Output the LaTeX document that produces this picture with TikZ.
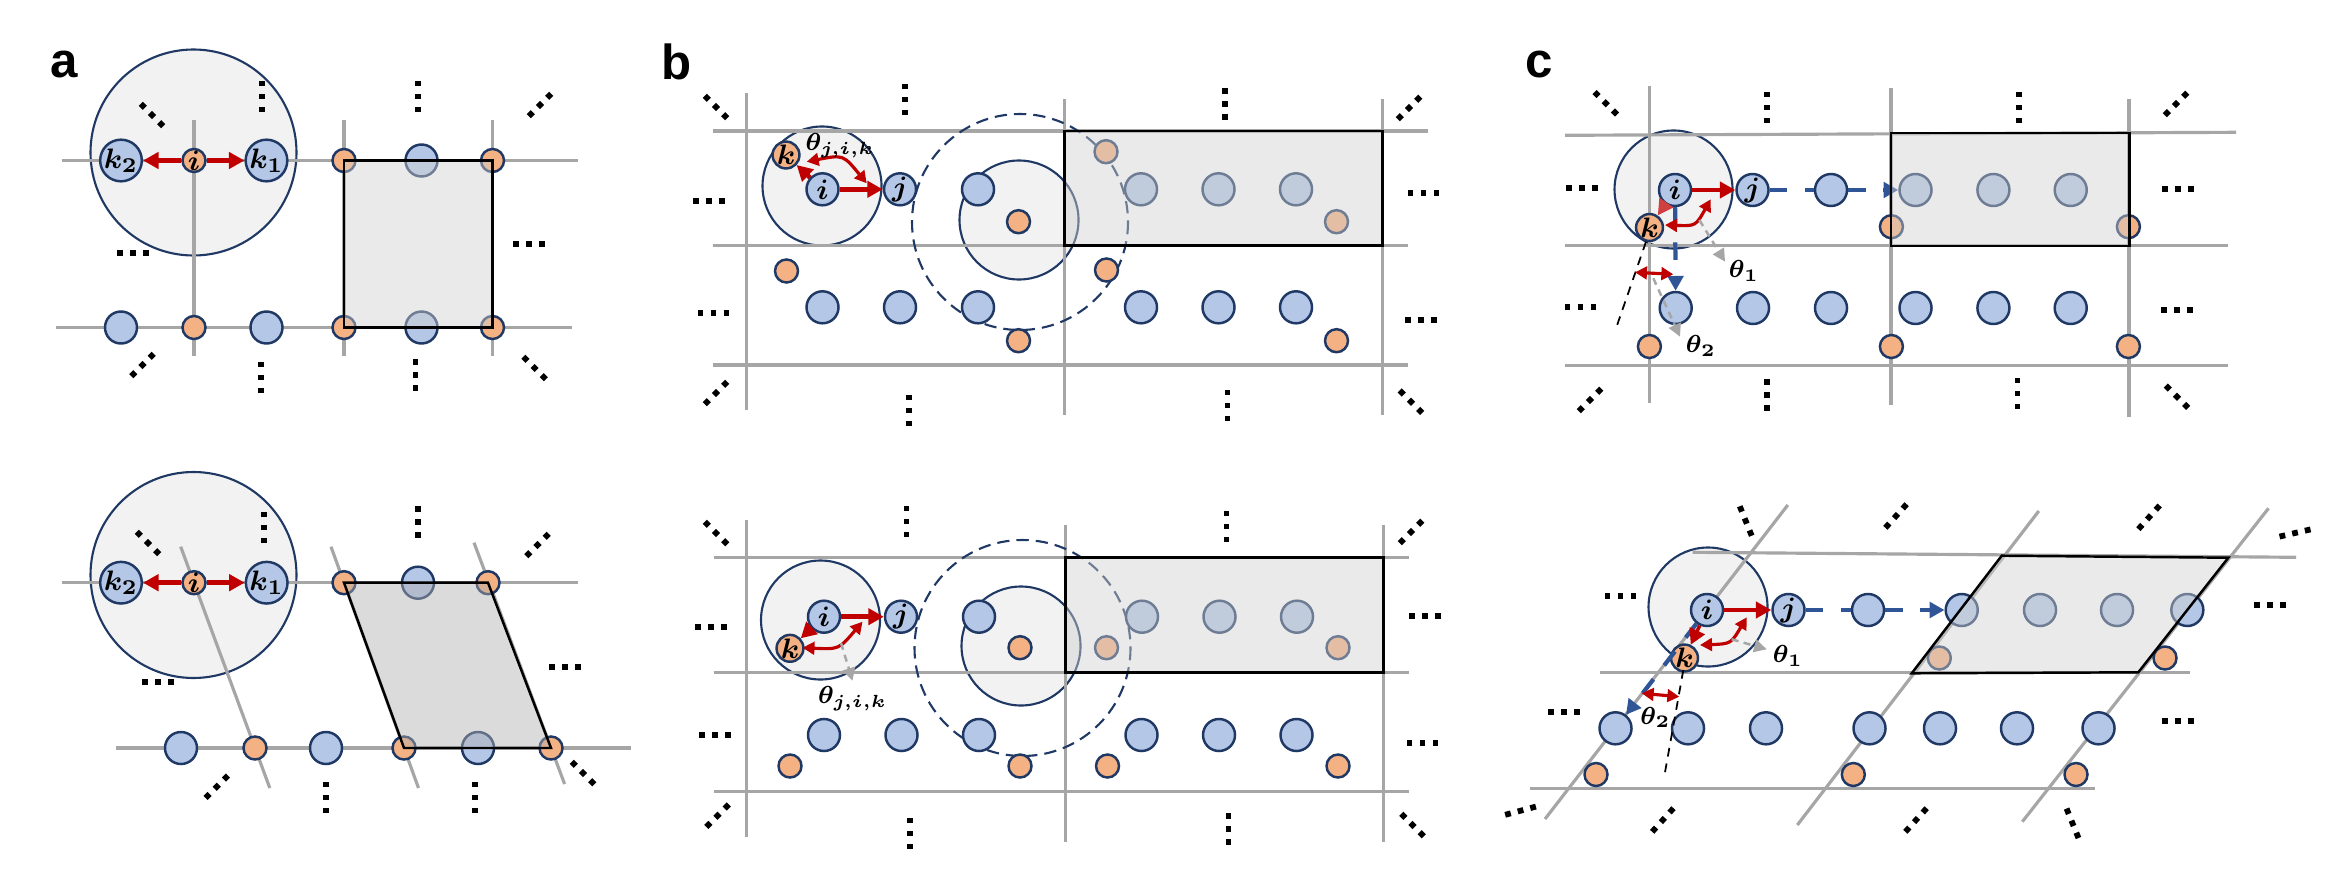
\documentclass[tikz,border=0pt]{standalone}
\usepackage{fontspec}
\usepackage{bm}
\usetikzlibrary{arrows.meta}
\newfontfamily\panelfont{Liberation Sans}
\newcommand\atomfont{\fontsize{8.5}{9}\selectfont}
\newcommand\anglefont{\fontsize{7.2}{8}\selectfont}
\definecolor{atomblue}{HTML}{B4C7E7}
\definecolor{atomorange}{HTML}{F4B183}
\definecolor{navy}{HTML}{1F3864}
\definecolor{gridgray}{HTML}{A6A6A6}
\definecolor{cutgray}{HTML}{F2F2F2}
\definecolor{cellgray}{HTML}{D0D0D0}
\definecolor{celldark}{HTML}{B0B0B0}
\definecolor{bondred}{HTML}{C00000}
\definecolor{hopblue}{HTML}{2F5597}
\tikzset{
  blueat/.style={circle, draw=navy, line width=0.7pt, fill=atomblue, minimum size=0.32cm, inner sep=0pt, font=\atomfont},
  orangeat/.style={circle, draw=navy, line width=0.7pt, fill=atomorange, minimum size=0.23cm, inner sep=0pt, font=\atomfont},
  gridln/.style={gridgray, line width=0.9pt},
  cutoff/.style={draw=navy, line width=0.6pt, fill=cutgray},
  bigcut/.style={navy, line width=0.6pt, dash pattern=on 3.5pt off 2pt},
  cell/.style={draw=black, line width=0.7pt, fill=cellgray, fill opacity=0.45},
  bond/.style={bondred, line width=1.3pt, -{Triangle[length=4.4pt,width=4.6pt]}},
  anglearc/.style={bondred, line width=0.9pt, {Triangle[length=3.4pt,width=3.6pt]}-{Triangle[length=3.4pt,width=3.6pt]}},
  hop/.style={hopblue, line width=1.2pt, dash pattern=on 5pt off 5pt},
  hoptip/.style={hop, -{Triangle[length=4.2pt,width=4.4pt]}},
  pointer/.style={gridgray, line width=0.7pt, dash pattern=on 2pt off 1.5pt, -{Triangle[length=3.6pt,width=3.6pt]}},
  guide/.style={black, line width=0.5pt, dash pattern=on 2.5pt off 2pt},
  panellbl/.style={font=\panelfont\bfseries\fontsize{14}{16}\selectfont, inner sep=0pt, anchor=base},
  anglelbl/.style={font=\anglefont, inner sep=0pt},
  pics/dotrow/.style={code={\foreach \d in {-13,0,13} \fill (\d-2.9,-2.9) rectangle (\d+2.9,2.9);}}
}
\begin{document}
\begin{tikzpicture}[x=0.01cm, y=-0.01cm]
\useasboundingbox (0,0) rectangle (2334,870);

\node[panellbl] (la) at (64,78) {a};
\node[panellbl] (lb) at (676.5,80) {b};
\node[panellbl] (lc) at (1539.5,78) {c};

% a, top
\draw[cutoff] (193.5,152.5) circle[radius=103];
\draw[gridln] (62,160.5) -- (578,160.5);
\draw[gridln] (56,327.5) -- (572,327.5);
\foreach \x in {194,344,492.5} \draw[gridln] (\x,120) -- (\x,356);
\node[blueat] (ak2) at (121,160.5) {$\bm{k_2}$};
\node[orangeat] (ai) at (194,160.5) {$\bm{i}$};
\node[blueat] (ak1) at (266.5,160.5) {$\bm{k_1}$};
\node[orangeat] (ao1) at (344,160.5) {};
\node[blueat] (ab1) at (421.5,160.5) {};
\node[orangeat] (ao2) at (492.5,160.5) {};
\foreach \x [count=\n] in {121,266.5,421.5} \node[blueat] (ap\n) at (\x,327.5) {};
\foreach \x [count=\n] in {194,344,492.5} \node[orangeat] (aq\n) at (\x,327.5) {};
\draw[bond] (ai) -- (ak1);
\draw[bond] (ai) -- (ak2);
\draw[cell] (ao1.center) -- (ao2.center) -- (aq3.center) -- (aq2.center) -- cycle;

% a, bottom
\draw[cutoff] (193.5,575) circle[radius=103];
\draw[gridln] (62,582.7) -- (578,582.7);
\draw[gridln] (116,748) -- (631,748);
\draw[gridln] (180.7,546.7) -- (269.8,788);
\draw[gridln] (331,546.7) -- (418.5,788);
\draw[gridln] (474,542.7) -- (564.6,784);
\node[blueat] (ak4) at (121,582.7) {$\bm{k_2}$};
\node[orangeat] (ai2) at (194,582.7) {$\bm{i}$};
\node[blueat] (ak3) at (266.7,582.7) {$\bm{k_1}$};
\node[orangeat] (ao3) at (344,582.7) {};
\node[blueat] (ab2) at (418,582.7) {};
\node[orangeat] (ao4) at (488,582.7) {};
\foreach \x [count=\n] in {181,326,478} \node[blueat] (as\n) at (\x,748) {};
\foreach \x [count=\n] in {255,404,551} \node[orangeat] (ar\n) at (\x,748) {};
\draw[bond] (ai2) -- (ak3);
\draw[bond] (ai2) -- (ak4);
\draw[cell, fill=celldark] (ao3.center) -- (ao4.center) -- (ar3.center) -- (ar2.center) -- cycle;

% b, top
\draw[cutoff] (822,186) circle[radius=59.5];
\draw[cutoff] (1019,220) circle[radius=59.5];
\draw[gridln] (712.5,131) -- (1427.5,131);
\draw[gridln] (712.5,245.7) -- (1407.5,245.7);
\draw[gridln] (712.5,365) -- (1407.5,365);
\draw[gridln] (746.5,93) -- (746.5,410);
\draw[gridln] (1064.5,99) -- (1064.5,415);
\draw[gridln] (1382.5,99) -- (1382.5,415);
\draw[bigcut] (1020,222) circle[radius=108];
\node[orangeat] (bk) at (786,155) {$\bm{k}$};
\node[blueat] (bi) at (822.5,189.3) {$\bm{i}$};
\node[blueat] (bj) at (900,189.3) {$\bm{j}$};
\foreach \x [count=\n] in {978,1141,1218.5,1296} \node[blueat] (bu\n) at (\x,189.3) {};
\foreach \x/\y [count=\n] in {1018.5/221.7,1106/151.7,1336.5/221.7} \node[orangeat] (bv\n) at (\x,\y) {};
\foreach \x [count=\n] in {822.5,900,978,1141,1218.5,1296} \node[blueat] (bw\n) at (\x,307.3) {};
\foreach \x/\y [count=\n] in {786.5/271,1106.5/270,1018.5/340.7,1336.5/340.7} \node[orangeat] (bx\n) at (\x,\y) {};
\draw[bond] (bi) -- (bj);
\draw[bond] (bi) -- (bk);
\coordinate (bt1) at (806.7,161.7);
\coordinate (btc) at (843.2,154.6);
\coordinate (bt2) at (866.7,183.3);
\draw[anglearc] (bt1) .. controls (btc) .. (bt2);
\node[anglelbl] (bth) at (840,146) {$\bm{\theta_{j,i,k}}$};
\draw[cell] (1064.5,131) rectangle (1382.5,245.7);

% b, bottom
\draw[cutoff] (820.5,620) circle[radius=59.5];
\draw[cutoff] (1021,646) circle[radius=59.5];
\draw[gridln] (713.5,557.7) -- (1408.5,557.7);
\draw[gridln] (713.5,672.3) -- (1408.5,672.3);
\draw[gridln] (713.5,791.7) -- (1408.5,791.7);
\draw[gridln] (746.5,520) -- (746.5,837);
\draw[gridln] (1065.5,525) -- (1065.5,842);
\draw[gridln] (1383.5,525) -- (1383.5,842);
\draw[bigcut] (1022.5,648) circle[radius=108];
\node[orangeat] (bk2) at (790,648.3) {$\bm{k}$};
\node[blueat] (bi2) at (824,616.7) {$\bm{i}$};
\node[blueat] (bj2) at (901,616.7) {$\bm{j}$};
\foreach \x [count=\n] in {979,1142,1219.5,1297} \node[blueat] (by\n) at (\x,616.7) {};
\foreach \x [count=\n] in {1020,1106.5,1338} \node[orangeat] (bz\n) at (\x,647.7) {};
\foreach \x [count=\n] in {824,901.5,979,1141.5,1219,1296.5} \node[blueat] (bq\n) at (\x,735) {};
\foreach \x [count=\n] in {790,1020,1107.5,1338} \node[orangeat] (br\n) at (\x,766) {};
\draw[bond] (bi2) -- (bj2);
\draw[bond] (bi2) -- (bk2);
\coordinate (bt3) at (802.5,647.7);
\coordinate (btd) at (838.9,649.4);
\coordinate (bt4) at (862.5,621.7);
\draw[anglearc] (bt3) .. controls (btd) .. (bt4);
\coordinate (bp1) at (841,643);
\coordinate (bp2) at (852.5,680.7);
\draw[pointer] (bp1) -- (bp2);
\node[anglelbl] (bth2) at (852.5,698.5) {$\bm{\theta_{j,i,k}}$};
\draw[cell] (1065.5,557.7) rectangle (1383.5,672.3);

% c, top
\draw[cutoff] (1673.5,189.5) circle[radius=59];
\draw[gridln] (1565,135.3) -- (2236,132.3);
\draw[gridln] (1565,245.7) -- (2227.6,245.7);
\draw[gridln] (1565,365.7) -- (2227.6,365.7);
\draw[gridln] (1649.4,86) -- (1649.4,403);
\draw[gridln] (1890.9,87.7) -- (1890.9,405);
\draw[gridln] (2129,99) -- (2129,416.7);
\node[orangeat] (ck) at (1649.5,227.5) {$\bm{k}$};
\node[blueat] (ci) at (1675,190) {$\bm{i}$};
\node[blueat] (cj) at (1752.5,190) {$\bm{j}$};
\foreach \x [count=\n] in {1831,1915.5,1993.4,2070.7} \node[blueat] (cu\n) at (\x,190) {};
\foreach \x [count=\n] in {1891.4,2128.4} \node[orangeat] (cv\n) at (\x,226.7) {};
\foreach \x [count=\n] in {1675.7,1753,1831,1915.5,1993.4,2070.7} \node[blueat] (cw\n) at (\x,308) {};
\foreach \x [count=\n] in {1649.4,1891.4,2128.4} \node[orangeat] (cx\n) at (\x,346.5) {};
\draw[hop] (cj) -- (cu1);
\draw[hoptip] (cu1) -- (cu2);
\draw[hoptip] (ci) -- (cw1);
\draw[bond] (ci) -- (cj);
\draw[bond, bondred!75, line width=1pt] (ci) -- (ck);
\coordinate (ct1) at (1665,225);
\coordinate (ctc) at (1695.7,226.1);
\coordinate (ct2) at (1710.7,199.3);
\draw[anglearc] (ct1) .. controls (ctc) .. (ct2);
\coordinate (cp1) at (1699.3,220);
\coordinate (cp2) at (1725,261.7);
\draw[pointer] (cp1) -- (cp2);
\node[anglelbl] (cth1) at (1744,271) {$\bm{\theta_1}$};
\coordinate (cg1) at (1646,241.7);
\coordinate (cg2) at (1616,328.3);
\draw[guide] (cg1) -- (cg2);
\coordinate (ca1) at (1635,272.3);
\coordinate (ca2) at (1673.3,274.3);
\draw[anglearc] (ca1) -- (ca2);
\coordinate (cp3) at (1653.3,278.3);
\coordinate (cp4) at (1680,336.7);
\draw[pointer] (cp3) -- (cp4);
\node[anglelbl] (cth2) at (1701,346) {$\bm{\theta_2}$};
\draw[cell] (1891,133) rectangle (2129.5,246);

% c, bottom
\draw[cutoff] (1708,607) circle[radius=59.5];
\draw[gridln] (1692.5,552.3) -- (2296,557.3);
\draw[gridln] (1600,672.3) -- (2190,672.3);
\draw[gridln] (1530,788.3) -- (2095,788.3);
\draw[gridln] (1787.8,505) -- (1545,819);
\draw[gridln] (2038.8,511) -- (1797.3,825);
\draw[gridln] (2268.5,508.3) -- (2022.3,821.7);
\node[orangeat] (ck2) at (1684.5,658) {$\bm{k}$};
\node[blueat] (ci2) at (1707,610) {$\bm{i}$};
\node[blueat] (cj2) at (1788.5,610) {$\bm{j}$};
\foreach \x [count=\n] in {1868,1961.7,2040,2117,2187.3} \node[blueat] (cy\n) at (\x,610) {};
\foreach \x [count=\n] in {1939.3,2165} \node[orangeat] (cq\n) at (\x,658) {};
\foreach \x [count=\n] in {1615.5,1688,1766,1869.5,1940,2017,2098.5} \node[blueat] (cz\n) at (\x,728.3) {};
\foreach \x [count=\n] in {1596,1853.3,2076} \node[orangeat] (cr\n) at (\x,774.5) {};
\draw[hop] (cj2) -- (cy1);
\draw[hoptip] (cy1) -- (cy2);
\draw[hoptip] (ci2) -- (cz1);
\draw[bond] (ci2) -- (cj2);
\draw[bond, line width=1pt] (ci2) -- (ck2);
\coordinate (ct3) at (1700,645);
\coordinate (ctd) at (1730.9,643.8);
\coordinate (ct4) at (1746.7,617.3);
\draw[anglearc] (ct3) .. controls (ctd) .. (ct4);
\coordinate (cp5) at (1731.7,639.3);
\coordinate (cp6) at (1766.7,649.3);
\draw[pointer] (cp5) -- (cp6);
\node[anglelbl] (cth3) at (1788,656) {$\bm{\theta_1}$};
\coordinate (cg3) at (1683.3,670);
\coordinate (cg4) at (1664.5,775);
\draw[guide] (cg3) -- (cg4);
\coordinate (ca3) at (1641.7,693.3);
\coordinate (ca4) at (1679.3,696.7);
\draw[anglearc] (ca3) -- (ca4);
\node[anglelbl] (cth4) at (1655.5,717.5) {$\bm{\theta_2}$};
\draw[cell] (2001.7,555.7) -- (2228.3,557.7) -- (2138.3,672.3) -- (1911.7,673.3) -- cycle;

% ellipses round the lattices
\foreach \x/\y/\r in {152/115/-45, 261.7/96.5/90, 418/96.5/90, 540/105/45, 133/253/0, 529/244/0,
  142.5/365/45, 261/377.5/90, 415.5/375/90, 534.6/368/-45,
  148/543/-45, 264/527.5/90, 418/522/90, 537.5/545/45, 158/681.7/0, 565/667/0,
  216.7/786.7/45, 326/797.5/90, 475/797.5/90, 583/773/-45,
  716/107/-45, 905/99.5/90, 1225/104/90, 1409/108/45, 709/200.7/0, 713.5/312.7/0,
  1423.5/193/0, 1421/320/0, 716/393/45, 909/410.5/90, 1227.5/405.5/90, 1411/401.7/-45,
  716/533/-45, 906.5/521.5/90, 1226.5/526.5/90, 1411/532/45, 711/626.7/0, 715/735/0,
  1425/616/0, 1422.5/742.7/0, 717.5/815.7/45, 910/833.5/90, 1228.5/829/90, 1412.5/825/-45,
  1605.7/103.3/-45, 1767/107.5/90, 2018.6/107.5/90, 2176/104/45, 1582/188.3/0, 1580.5/307.3/0,
  2178/189.3/0, 2177/310/0, 1590/400/45, 1767/395/90, 2017.5/393.5/90, 2177/396.7/-45,
  1745.7/521/-68, 1896/516/48, 2149/517.3/48, 2295/533/13, 1620.5/595.7/0, 2270/605/0,
  1563.7/712.3/0, 2178/721/0, 1520.5/810.7/15, 1662.8/820/48, 1916/820/48, 2072.5/823.3/-68}
  \pic[rotate=\r] at (\x,\y) {dotrow};
\end{tikzpicture}
\end{document}
